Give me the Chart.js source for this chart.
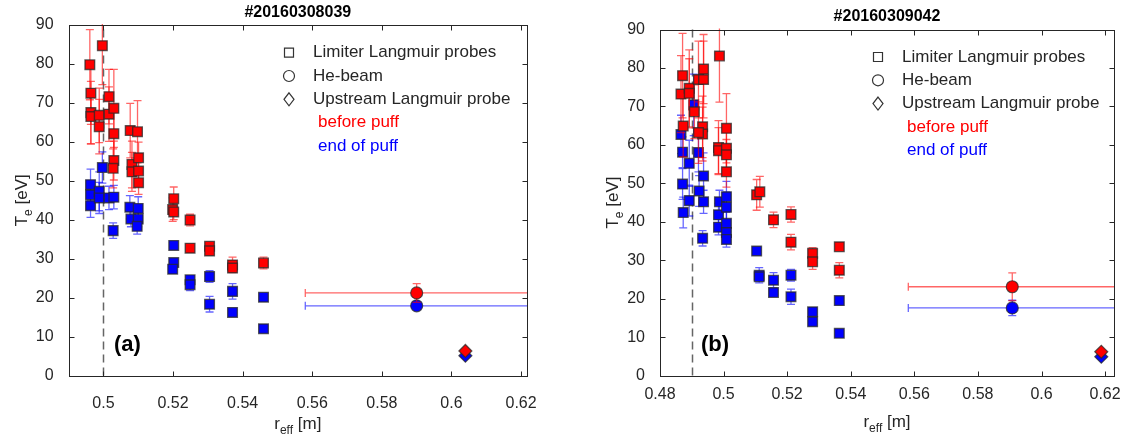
<!DOCTYPE html>
<html>
<head>
<meta charset="utf-8">
<title>Te profiles</title>
<script src="https://cdn.jsdelivr.net/npm/chart.js@4.4.1/dist/chart.umd.min.js"></script>
<style>
  html, body { margin: 0; padding: 0; background: #fff; }
  #wrap { position: relative; width: 1123px; height: 435px; }
  .panel { position: absolute; top: 0; height: 435px; }
  #panel-a { left: 0; width: 560px; }
  #panel-b { left: 560px; width: 563px; }
</style>
</head>
<body>
<div id="wrap">
  <div class="panel" id="panel-a"><canvas id="chart-a"></canvas></div>
  <div class="panel" id="panel-b"><canvas id="chart-b"></canvas></div>
</div>
<script>
// ---- panel (a): #20160308039 ----
const aRedX   = [0.4961, 0.4964, 0.4964, 0.4964, 0.4988, 0.4988, 0.4997, 0.5016, 0.5016, 0.5030, 0.5030, 0.5030, 0.5028, 0.5077, 0.5098, 0.5082, 0.5082, 0.5101, 0.5101, 0.5101, 0.5202, 0.5199, 0.5202, 0.5249, 0.5249, 0.5305, 0.5305, 0.5371, 0.5371, 0.5460];
const aRedY   = [79.8, 72.5, 67.5, 66.5, 66.8, 63.9, 84.7, 71.6, 67.1, 68.6, 62.1, 55.2, 53.2, 62.9, 62.6, 54.2, 52.3, 55.9, 52.5, 49.5, 45.4, 42.6, 42.0, 39.9, 32.7, 33.2, 32.0, 28.4, 27.6, 28.9];
const aRedErr = [9, 8, 8, 7, 7, 7, 10, 7, 7, 10, 7, 5, 5, 7, 8, 6, 5, 4, 3, 3, 3, 3, 2, 1.5, 0.5, 1, 1, 2, 1, 1.5];

const aBlueX   = [0.4963, 0.4963, 0.4963, 0.4988, 0.4988, 0.4997, 0.5016, 0.5030, 0.5028, 0.5076, 0.5079, 0.5100, 0.5100, 0.5097, 0.5202, 0.5202, 0.5199, 0.5249, 0.5249, 0.5305, 0.5305, 0.5371, 0.5371, 0.5460, 0.5460];
const aBlueY   = [49.0, 46.4, 43.6, 47.3, 45.6, 53.4, 45.6, 45.8, 37.2, 43.2, 40.2, 42.9, 40.2, 38.3, 33.4, 29.0, 27.3, 24.6, 23.3, 25.4, 18.3, 21.6, 16.2, 20.1, 12.0];
const aBlueErr = [4, 3, 3, 5, 4, 4, 3, 3, 2, 3, 2, 3, 2, 2, 0.5, 1, 1, 1, 1.5, 1.5, 2, 2, 0.5, 1, 0.5];

const aBeamX = 0.59, aBeamXErr = 0.032;
const aBeamY = [21.2, 17.9];      // before puff, end of puff
const aBeamYErr = [2.4, 0.8];
const aUpX = 0.604;
const aUpY = [6.3, 5.1];
const aSepX = 0.5;
const aTicksX = [0.5, 0.52, 0.54, 0.56, 0.58, 0.6, 0.62];

// ---- panel (b): #20160309042 ----
const bRedX   = [0.4866, 0.4871, 0.4873, 0.4892, 0.4892, 0.4908, 0.4921, 0.4937, 0.4937, 0.4934, 0.4934, 0.4921, 0.4987, 0.4984, 0.4984, 0.5009, 0.5009, 0.5009, 0.5009, 0.5104, 0.5114, 0.5157, 0.5212, 0.5212, 0.5280, 0.5280, 0.5364, 0.5364];
const bRedY   = [73.2, 78.0, 64.9, 74.7, 73.4, 68.6, 77.0, 79.7, 77.0, 64.7, 62.8, 63.2, 83.1, 59.3, 58.5, 64.3, 59.1, 57.4, 53.0, 47.0, 47.8, 40.5, 41.9, 34.7, 31.8, 29.6, 33.5, 27.4];
const bRedErr = [10, 11, 8, 10, 9, 7, 10, 9, 10, 8, 7, 8, 12, 7, 6, 9, 5, 4, 4, 4, 4, 2, 2, 2, 1.5, 2, 0.5, 2];

const bBlueX   = [0.4866, 0.4871, 0.4871, 0.4873, 0.4892, 0.4892, 0.4906, 0.4921, 0.4923, 0.4937, 0.4937, 0.4934, 0.4987, 0.4984, 0.4984, 0.5009, 0.5009, 0.5009, 0.5009, 0.5009, 0.5104, 0.5112, 0.5112, 0.5157, 0.5157, 0.5212, 0.5212, 0.5280, 0.5280, 0.5364, 0.5364];
const bBlueY   = [62.7, 58.1, 49.8, 42.4, 55.2, 45.5, 70.4, 58.0, 48.0, 51.9, 45.2, 35.7, 45.2, 41.8, 38.6, 46.5, 43.8, 39.6, 37.2, 35.4, 32.4, 26.1, 25.7, 24.8, 21.6, 26.1, 20.5, 16.6, 14.0, 19.5, 11.0];
const bBlueErr = [5, 4, 4, 4, 6, 4, 8, 5, 4, 6, 3, 2, 3, 3, 2, 4, 4, 3, 2, 2, 0.5, 2, 1, 2, 1, 1.5, 2, 1, 1, 1, 0.5];

const bBeamX = 0.5908, bBeamXErr = 0.0327;
const bBeamY = [23.1, 17.6];
const bBeamYErr = [3.6, 2.0];
const bUpX = 0.6188;
const bUpY = [6.2, 4.9];
const bSepX = 0.49;
const bTicksX = [0.48, 0.5, 0.52, 0.54, 0.56, 0.58, 0.6, 0.62];

const legendText  = ['Limiter Langmuir probes', 'He-beam', 'Upstream Langmuir probe', 'before puff', 'end of puff'];
const legendShape = ['square', 'circle', 'diamond', null, null];
const legendColor = ['#262626', '#262626', '#262626', '#ff0000', '#0000ff'];

const FONT = '"Liberation Sans", Arial, Helvetica, sans-serif';
const RED = '#ff0000', BLUE = '#0000ff';
const RED_BAR = 'rgba(255,0,0,0.6)', BLUE_BAR = 'rgba(0,0,255,0.6)';
const EDGE = 'rgba(40,40,40,0.75)';
const AXIS = '#262626';

const pts = (xs, ys) => xs.map((x, i) => ({ x, y: ys[i] }));

// error bars, drawn just under each dataset's markers
const errorBars = {
  id: 'errorBars',
  beforeDatasetDraw(chart, args) {
    const ds = chart.data.datasets[args.index];
    if (!ds.yErr && !ds.xErr) return;
    const { ctx, chartArea: a, scales: { x, y } } = chart;
    ctx.save();
    ctx.beginPath();
    ctx.rect(a.left - 1, a.top - 1, a.width + 2, a.height + 2);
    ctx.clip();
    ctx.strokeStyle = ds.barColor;
    ctx.lineWidth = 1.3;
    ds.data.forEach((p, i) => {
      const px = x.getPixelForValue(p.x), py = y.getPixelForValue(p.y);
      ctx.beginPath();
      if (ds.yErr) {
        const t = y.getPixelForValue(p.y + ds.yErr[i]);
        const b = y.getPixelForValue(p.y - ds.yErr[i]);
        ctx.moveTo(px, t); ctx.lineTo(px, b);
        ctx.moveTo(px - 4, t); ctx.lineTo(px + 4, t);
        ctx.moveTo(px - 4, b); ctx.lineTo(px + 4, b);
      }
      if (ds.xErr) {
        const l = x.getPixelForValue(p.x - ds.xErr);
        const r = x.getPixelForValue(p.x + ds.xErr);
        ctx.moveTo(l, py); ctx.lineTo(r, py);
        ctx.moveTo(l, py - 4); ctx.lineTo(l, py + 4);
        ctx.moveTo(r, py - 4); ctx.lineTo(r, py + 4);
      }
      ctx.stroke();
    });
    ctx.restore();
  }
};

function shape(ctx, kind, cx, cy) {
  ctx.beginPath();
  if (kind === 'square') ctx.rect(cx - 4.5, cy - 4.5, 9, 9);
  if (kind === 'circle') ctx.arc(cx, cy, 5.5, 0, Math.PI * 2);
  if (kind === 'diamond') {
    ctx.moveTo(cx, cy - 6.5); ctx.lineTo(cx + 5, cy);
    ctx.lineTo(cx, cy + 6.5); ctx.lineTo(cx - 5, cy);
    ctx.closePath();
  }
  ctx.fill(); ctx.stroke();
}

// MATLAB-like box, inward ticks, separatrix line, sub-scripted axis labels, legend
const frame = {
  id: 'frame',
  beforeDatasetsDraw(chart, args, o) {
    const { ctx, chartArea: a, scales: { x } } = chart;
    const px = Math.round(x.getPixelForValue(o.sepX)) + 0.5;
    ctx.save();
    ctx.strokeStyle = 'rgba(50,50,50,0.75)';
    ctx.lineWidth = 1.5;
    ctx.setLineDash([8, 5]);
    ctx.beginPath(); ctx.moveTo(px, a.bottom); ctx.lineTo(px, a.top); ctx.stroke();
    ctx.restore();
  },
  afterDraw(chart, args, o) {
    const { ctx, chartArea: a, scales: { x, y } } = chart;
    const L = Math.round(a.left) + 0.5, R = Math.round(a.right) + 0.5;
    const T = Math.round(a.top) + 0.5, B = Math.round(a.bottom) + 0.5;
    ctx.save();
    ctx.strokeStyle = AXIS;
    ctx.lineWidth = 1;
    ctx.strokeRect(L, T, R - L, B - T);
    ctx.beginPath();
    x.ticks.forEach(t => {
      const px = Math.round(x.getPixelForValue(t.value)) + 0.5;
      ctx.moveTo(px, B); ctx.lineTo(px, B - 5);
      ctx.moveTo(px, T); ctx.lineTo(px, T + 5);
    });
    y.ticks.forEach(t => {
      const py = Math.round(y.getPixelForValue(t.value)) + 0.5;
      ctx.moveTo(L, py); ctx.lineTo(L + 5, py);
      ctx.moveTo(R, py); ctx.lineTo(R - 5, py);
    });
    ctx.stroke();

    // x title: r_eff [m]
    ctx.fillStyle = AXIS;
    ctx.textBaseline = 'middle';
    ctx.textAlign = 'left';
    const big = '17px ' + FONT, small = '12px ' + FONT;
    ctx.font = big; const w1 = ctx.measureText('r').width, w3 = ctx.measureText(' [m]').width;
    ctx.font = small; const w2 = ctx.measureText('eff').width;
    let sx = (a.left + a.right) / 2 - (w1 + w2 + w3) / 2;
    ctx.font = big; ctx.fillText('r', sx, o.xTitleY);
    ctx.font = small; ctx.fillText('eff', sx + w1, o.xTitleY + 7);
    ctx.font = big; ctx.fillText(' [m]', sx + w1 + w2, o.xTitleY);

    // y title: T_e [eV]
    ctx.save();
    ctx.translate(o.yTitleX, (a.top + a.bottom) / 2);
    ctx.rotate(-Math.PI / 2);
    ctx.font = big; const v1 = ctx.measureText('T').width, v3 = ctx.measureText(' [eV]').width;
    ctx.font = small; const v2 = ctx.measureText('e').width;
    sx = -(v1 + v2 + v3) / 2;
    ctx.font = big; ctx.fillText('T', sx, 0);
    ctx.font = small; ctx.fillText('e', sx + v1, 7);
    ctx.font = big; ctx.fillText(' [eV]', sx + v1 + v2, 0);
    ctx.restore();

    // legend
    ctx.font = '17px ' + FONT;
    legendText.forEach((txt, i) => {
      const ly = o.legendY + i * 23.3;
      if (legendShape[i]) {
        ctx.fillStyle = '#fff';
        ctx.strokeStyle = '#333';
        ctx.lineWidth = 1.2;
        shape(ctx, legendShape[i], o.legendX, ly);
        ctx.fillStyle = legendColor[i];
        ctx.fillText(txt, o.legendX + 24, ly);
      } else {
        ctx.fillStyle = legendColor[i];
        ctx.fillText(txt, o.legendX + 29, ly);
      }
    });

    // panel letter
    ctx.fillStyle = '#000';
    ctx.font = 'bold 22px ' + FONT;
    ctx.fillText(o.letter, o.letterX, 345);
    ctx.restore();
  }
};

function makePanel(id, p) {
  const sq = (xs, ys, err, fill, bar) => ({
    data: pts(xs, ys), yErr: err, barColor: bar,
    pointStyle: 'rect', pointRadius: 6.8, backgroundColor: fill, borderColor: EDGE, borderWidth: 1.4
  });
  const single = (xv, yv, yErr, xErr, style, r, fill, bar) => ({
    data: [{ x: xv, y: yv }], yErr: yErr, xErr: xErr, barColor: bar,
    pointStyle: style, pointRadius: r, backgroundColor: fill, borderColor: EDGE, borderWidth: 1.2
  });
  return new Chart(document.getElementById(id), {
    type: 'scatter',
    data: {
      datasets: [
        sq(p.redX, p.redY, p.redErr, RED, RED_BAR),
        sq(p.blueX, p.blueY, p.blueErr, BLUE, BLUE_BAR),
        single(p.beamX, p.beamY[0], [p.beamYErr[0]], p.beamXErr, 'circle', 6, RED, RED_BAR),
        single(p.beamX, p.beamY[1], [p.beamYErr[1]], p.beamXErr, 'circle', 6, BLUE, BLUE_BAR),
        single(p.upX, p.upY[0], null, null, 'rectRot', 6.5, RED, RED_BAR),
        single(p.upX, p.upY[1], null, null, 'rectRot', 6.5, BLUE, BLUE_BAR)
      ]
    },
    options: {
      responsive: true,
      maintainAspectRatio: false,
      animation: false,
      devicePixelRatio: 1,
      layout: { padding: { left: 0, right: p.padRight, top: 0, bottom: 0 } },
      plugins: {
        legend: { display: false },
        tooltip: { enabled: false },
        title: {
          display: true, text: p.title, fullSize: false, color: '#000',
          font: { family: FONT, size: 16, weight: 'bold' },
          padding: { top: p.titleTop, bottom: p.titleBottom }
        },
        frame: {
          sepX: p.sepX, xTitleY: p.xTitleY, yTitleX: p.yTitleX,
          legendX: p.legendX, legendY: p.legendY, letter: p.letter, letterX: p.letterX
        }
      },
      scales: {
        x: {
          type: 'linear', min: p.xMin, max: p.xMax,
          grid: { display: false }, border: { display: false },
          afterBuildTicks: s => { s.ticks = p.ticksX.map(v => ({ value: v })); },
          afterFit: s => { s.height = p.xAxisH; },
          ticks: {
            color: AXIS, font: { family: FONT, size: 16 }, padding: p.xTickPad,
            maxRotation: 0, autoSkip: false, callback: v => String(+v.toFixed(2))
          }
        },
        y: {
          min: 0, max: 90,
          grid: { display: false }, border: { display: false },
          afterFit: s => { s.width = p.yAxisW; },
          ticks: { stepSize: 10, color: AXIS, font: { family: FONT, size: 16 }, padding: 7 }
        }
      }
    },
    plugins: [errorBars, frame]
  });
}

makePanel('chart-a', {
  title: '#20160308039', letter: '(a)', letterX: 114,
  redX: aRedX, redY: aRedY, redErr: aRedErr, blueX: aBlueX, blueY: aBlueY, blueErr: aBlueErr,
  beamX: aBeamX, beamXErr: aBeamXErr, beamY: aBeamY, beamYErr: aBeamYErr, upX: aUpX, upY: aUpY,
  sepX: aSepX, ticksX: aTicksX, xMin: 0.49, xMax: 0.6217,
  padRight: 33, yAxisW: 68.6, xAxisH: 59.5, xTickPad: 10, titleTop: 3.4, titleBottom: 2.4,
  xTitleY: 424, yTitleX: 22, legendX: 289, legendY: 52.7
});

makePanel('chart-b', {
  title: '#20160309042', letter: '(b)', letterX: 141,
  redX: bRedX, redY: bRedY, redErr: bRedErr, blueX: bBlueX, blueY: bBlueY, blueErr: bBlueErr,
  beamX: bBeamX, beamXErr: bBeamXErr, beamY: bBeamY, beamYErr: bBeamYErr, upX: bUpX, upY: bUpY,
  sepX: bSepX, ticksX: bTicksX, xMin: 0.48, xMax: 0.6228,
  padRight: 9, yAxisW: 100, xAxisH: 59.4, xTickPad: 1, titleTop: 7.4, titleBottom: 2.9,
  xTitleY: 422, yTitleX: 53, legendX: 318, legendY: 57
});
</script>
</body>
</html>
